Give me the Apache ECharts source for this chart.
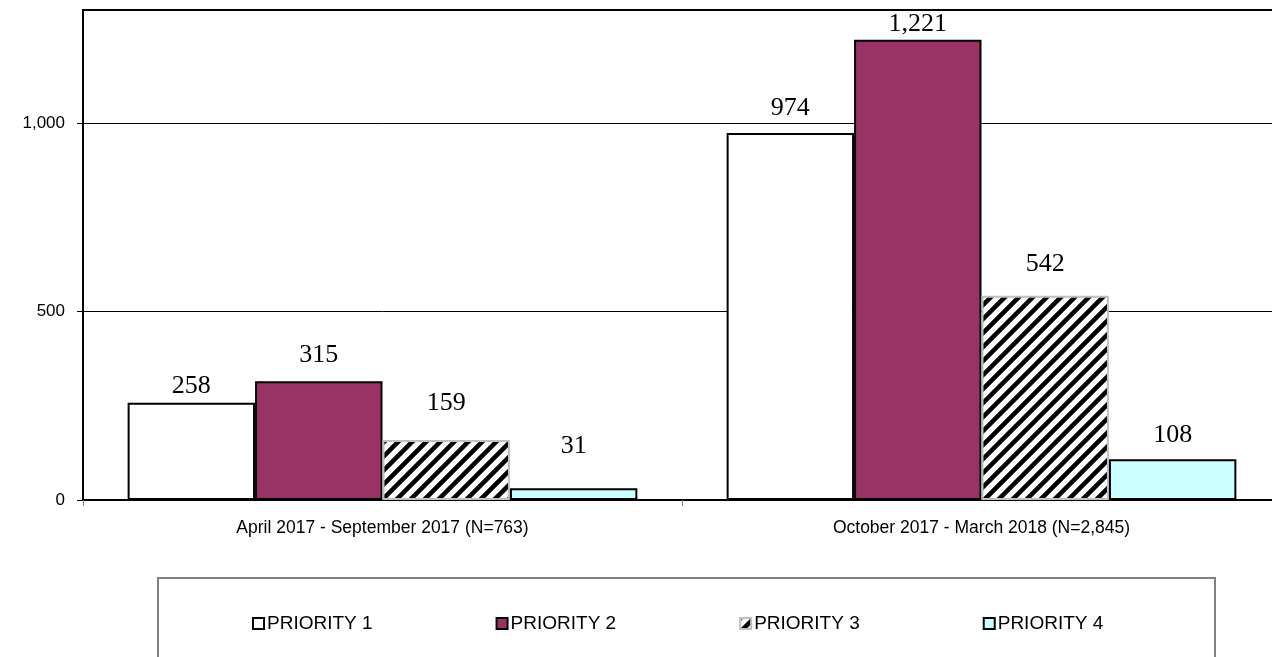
<!DOCTYPE html>
<html>
<head>
<meta charset="utf-8">
<style>
html, body { margin: 0; padding: 0; background: #fff; overflow: hidden; }
#chart { width: 1300px; height: 657px; }
</style>
<script src="https://cdn.jsdelivr.net/npm/echarts@6/dist/echarts.min.js"></script>
</head>
<body>
<div id="chart"></div>
<script>
// periods on the x axis
var periods = ['April 2017 - September 2017 (N=763)', 'October 2017 - March 2018 (N=2,845)'];
var seriesNames = ['PRIORITY 1', 'PRIORITY 2', 'PRIORITY 3', 'PRIORITY 4'];
var priority1 = [258, 974];
var priority2 = [315, 1221];
var priority3 = [159, 542];
var priority4 = [31, 108];
var yTicks = [0, 500, 1000];

// excel-ish label spacing above each bar (px), per series
var labelGap1 = [4, 12];
var labelGap2 = [13, 3];
var labelGap3 = [24, 19];
var labelGap4 = [29, 11];

// diagonal hatch for priority 3
function makeHatch() {
    var c = document.createElement('canvas');
    c.width = 14; c.height = 14;
    var ctx = c.getContext('2d');
    ctx.fillStyle = '#fff';
    ctx.fillRect(0, 0, 14, 14);
    ctx.strokeStyle = '#000';
    ctx.lineWidth = 4.5;
    ctx.beginPath();
    for (var k = -1; k <= 1; k++) {
        ctx.moveTo(k * 14 - 2, 16);
        ctx.lineTo(k * 14 + 16, -2);
    }
    ctx.stroke();
    return c;
}
var hatch = { image: makeHatch(), repeat: 'repeat' };

var chart = echarts.init(document.getElementById('chart'));

function fmt(v) {
    return Number(v).toLocaleString('en-US');
}

function buildSeries(name, values, gaps, fill, border) {
    return {
        name: name,
        type: 'bar',
        barGap: 0,
        barCategoryGap: '14.9%',
        itemStyle: { color: fill, borderColor: border, borderWidth: 2 },
        emphasis: { disabled: true },
        data: values.map(function (v, i) {
            return {
                value: v,
                label: { distance: gaps[i] }
            };
        }),
        label: {
            show: true,
            position: 'top',
            fontFamily: '"Times New Roman", "Liberation Serif", serif',
            fontSize: 26,
            color: '#000',
            formatter: function (p) { return fmt(p.value); }
        }
    };
}

var sans = 'Arial, "Liberation Sans", sans-serif';

var option = {
    animation: false,
    backgroundColor: '#fff',
    textStyle: { fontFamily: sans },
    grid: {
        left: 83, top: 10, right: 19, bottom: 157,
        show: true, borderColor: '#000', borderWidth: 2,
        outerBoundsMode: 'none'
    },
    legend: {
        data: seriesNames,
        icon: 'rect',
        left: 247,
        top: 609,
        itemWidth: 11,
        itemHeight: 11,
        itemGap: 123,
        selectedMode: false,
        textStyle: { fontFamily: sans, fontSize: 19, color: '#000', padding: [0, 0, 0, -2] }
    },
    graphic: [{
        type: 'rect',
        shape: { x: 158, y: 578, width: 1057, height: 120 },
        style: { fill: 'none', stroke: '#808080', lineWidth: 2 },
        silent: true
    }],
    xAxis: {
        type: 'category',
        data: periods,
        axisLine: { lineStyle: { color: '#000', width: 2 } },
        axisTick: { show: true, length: 6, lineStyle: { color: '#808080' } },
        axisLabel: { fontSize: 17.5, color: '#000', margin: 19, fontFamily: sans }
    },
    yAxis: {
        type: 'value',
        min: 0,
        max: 1300,
        interval: 500,
        axisLine: { show: true, lineStyle: { color: '#000', width: 2 } },
        axisTick: { show: true, length: 6, customValues: yTicks, lineStyle: { color: '#000' } },
        splitLine: { show: true, lineStyle: { color: '#000', width: 1 } },
        axisLabel: {
            fontSize: 17, color: '#000', margin: 18,
            fontFamily: sans,
            customValues: yTicks,
            formatter: function (v) { return fmt(v); }
        }
    },
    series: [
        buildSeries(seriesNames[0], priority1, labelGap1, '#ffffff', '#000'),
        buildSeries(seriesNames[1], priority2, labelGap2, '#993366', '#000'),
        buildSeries(seriesNames[2], priority3, labelGap3, hatch, '#c0c0c0'),
        buildSeries(seriesNames[3], priority4, labelGap4, '#ccffff', '#000')
    ]
};

chart.setOption(option);
</script>
</body>
</html>
